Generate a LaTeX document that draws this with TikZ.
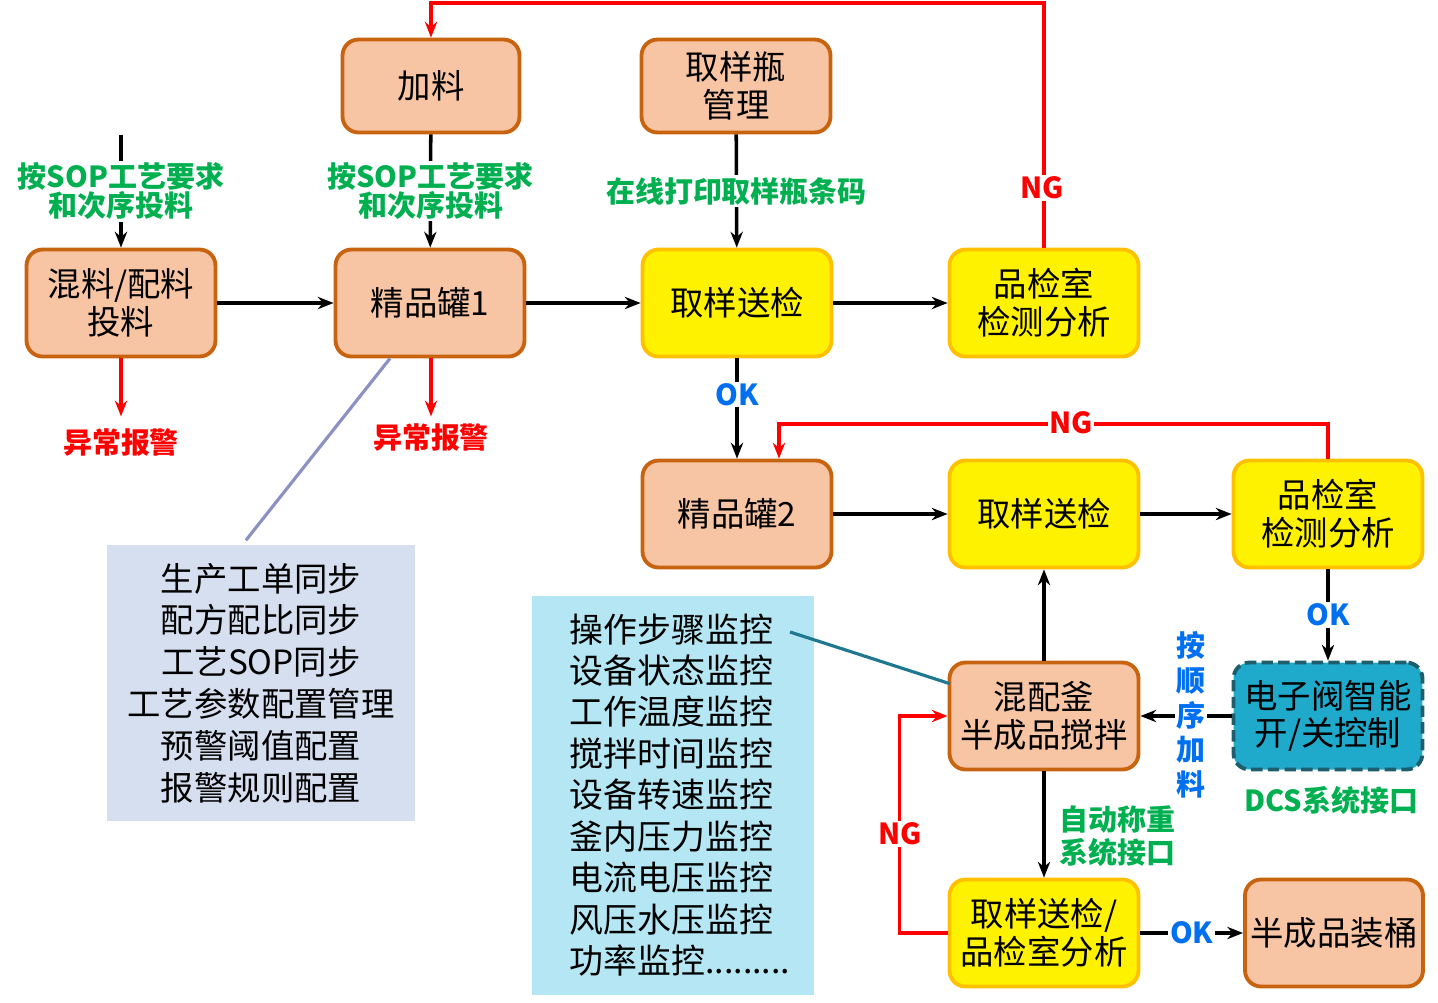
\documentclass[tikz,border=0pt]{standalone}
\usepackage{fontspec}
\setmainfont{Noto Sans CJK SC}
\usepackage{xcolor}
\usetikzlibrary{positioning,arrows.meta,calc}
\definecolor{peach}{HTML}{F7C4A4}
\definecolor{rim}{HTML}{C8640F}
\definecolor{gold}{HTML}{FFC000}
\definecolor{valvefill}{HTML}{1FA9CA}
\definecolor{valverim}{HTML}{1E5E6C}
\definecolor{okblue}{HTML}{0070F0}
\definecolor{sopgreen}{HTML}{00B050}
\definecolor{syncfill}{HTML}{D5DFEF}
\definecolor{monfill}{HTML}{B4E7F3}
\definecolor{syncline}{HTML}{8C91C4}
\definecolor{monline}{HTML}{1F7890}

\begin{document}
\begin{tikzpicture}[x=0.02cm,y=-0.02cm,
  box/.style={rectangle,draw=rim,fill=peach,line width=2.2pt,rounded corners=0.32cm,
    minimum width=3.78cm,minimum height=2.14cm,align=center,inner sep=1pt,
    font=\fontsize{19}{21.5}\selectfont},
  chk/.style={box,draw=gold,fill=yellow},
  arr/.style={-{Stealth[length=9pt,width=7pt]},line width=2pt},
  redarr/.style={arr,red},
  tag/.style={fill=white,inner sep=1pt,align=center,font=\bfseries\fontsize{16.5}{16.5}\selectfont},
  sop/.style={tag,text=sopgreen},
  ok/.style={tag,text=okblue},
  ng/.style={tag,text=red}]
  \useasboundingbox (0,0) rectangle (1438,1002);

  \node[box,minimum width=3.54cm,minimum height=1.86cm] (feed) at (431,86) {加料};
  \node[box,minimum height=1.86cm] (bottle) at (736,86) {取样瓶\\管理};
  \node[box] (mix) at (121,303) {混料/配料\\投料};
  \node[box] (jar1) at (430,303) {精品罐1};
  \node[chk] (samp1) at (737,303) {取样送检};
  \node[chk] (lab1) at (1044,303) {品检室\\检测分析};
  \node[box] (jar2) at (737,514) {精品罐2};
  \node[chk] (samp2) at (1044,514) {取样送检};
  \node[chk] (lab2) at (1328,514) {品检室\\检测分析};
  \node[box] (mixer) at (1044,716) {混配釜\\半成品搅拌};
  \node[box,draw=valverim,fill=valvefill,dash pattern=on 6.5pt off 3pt] (valve) at (1328,716) {电子阀智能\\开/关控制};
  \node[chk] (final) at (1044,933) {取样送检/\\品检室分析};
  \node[box,minimum width=3.56cm] (pack) at (1334,933) {半成品装桶};

  \node[rectangle,fill=syncfill,minimum width=6.16cm,minimum height=5.54cm,align=center,
    font=\fontsize{19}{23.8}\selectfont] (sync) at (261,683)
    {生产工单同步\\配方配比同步\\工艺SOP同步\\工艺参数配置管理\\预警阈值配置\\报警规则配置};
  \fill[monfill] (532,596) rectangle (814,995);
  \node[align=left,font=\fontsize{19.3}{23.6}\selectfont] (mon) at (680,795)
    {操作步骤监控\\设备状态监控\\工作温度监控\\搅拌时间监控\\设备转速监控\\釜内压力监控\\电流电压监控\\风压水压监控\\功率监控.........};

  \coordinate (in1) at (121,135);
  \coordinate (top) at (0,3);
  \coordinate (ng2) at (779,424);
  \coordinate (mon1) at (790,632);

  \draw[arr] (in1) -- (mix) node[sop,pos=0.5] {按SOP工艺要求\\和次序投料};
  \draw[arr] (feed) -- (jar1) node[sop,midway] {按SOP工艺要求\\和次序投料};
  \draw[arr] (bottle) -- (samp1) node[sop,midway] {在线打印取样瓶条码};
  \draw[arr] (mix) -- (jar1);
  \draw[arr] (jar1) -- (samp1);
  \draw[arr] (samp1) -- (lab1);
  \draw[redarr] (mix.south) -- ++(0,58) node[ng,below=5pt] {异常报警};
  \draw[redarr] (feed.south |- jar1.south) -- ++(0,58) node[ng,below=2pt] {异常报警};
  \draw[redarr] (lab1.north) -- (lab1.north |- top) -| (feed.north);
  \node[ng] at (1042,188) {NG};
  \draw[arr] (samp1) -- (jar2) node[ok,pos=0.36] {OK};
  \draw[redarr] (lab2.north) |- (ng2) -- (ng2 |- jar2.north);
  \node[ng] at (1071,423) {NG};
  \draw[arr] (jar2) -- (samp2);
  \draw[arr] (samp2) -- (lab2);
  \draw[arr] (lab2) -- (valve) node[ok,midway] {OK};
  \draw[arr] (mixer) -- (samp2);
  \draw[arr] (valve) -- (mixer);
  \node[tag,text=okblue,font=\bfseries\fontsize{16.5}{19.8}\selectfont] at (1191,715) {按\\顺\\序\\加\\料};
  \draw[arr] (mixer) -- (final);
  \node[tag,text=sopgreen,align=left,anchor=west,font=\bfseries\fontsize{16.5}{18.7}\selectfont] at (1057,836) {自动称重\\系统接口};
  \draw[redarr] (final.west) -- ++(-48,0) |- (mixer.west);
  \node[ng] at (900,834) {NG};
  \draw[arr] (final) -- (pack) node[ok,midway] {OK};
  \node[tag,text=sopgreen] at (1331,800) {DCS系统接口};

  \draw[syncline,line width=1.8pt] ($(jar1.south)+(-40,0)$) -- ($(sync.north)+(-15,-4)$);
  \draw[monline,line width=1.8pt] (mon1) -- ($(mixer.north west)+(2,23)$);
\end{tikzpicture}
\end{document}
